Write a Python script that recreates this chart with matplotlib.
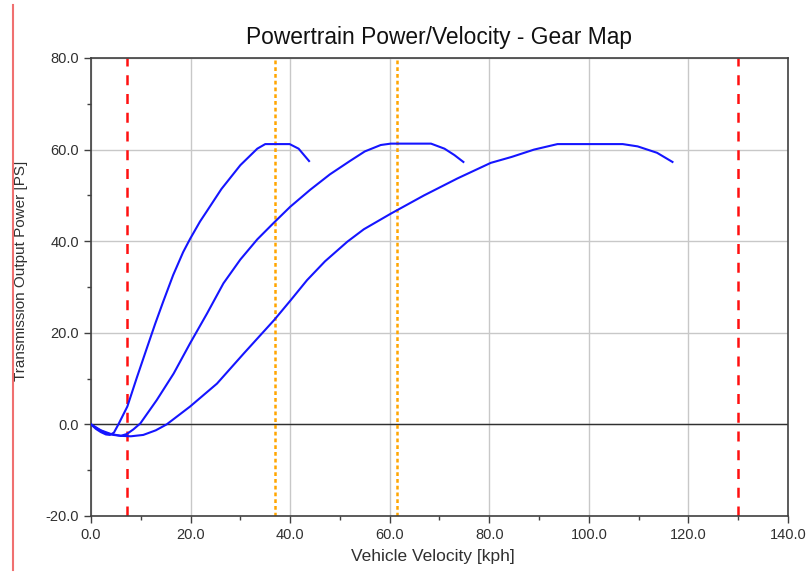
import matplotlib.pyplot as plt
from matplotlib.lines import Line2D
from matplotlib.ticker import MultipleLocator, FormatStrFormatter

plt.rcParams['font.family'] = ['Liberation Sans', 'DejaVu Sans']

# Curvas potencia / velocidad por marcha
v_gear1 = [0, 1.0, 2.0, 3.0, 3.8, 4.6, 5.5, 7.3, 9.2, 11.2, 12.9, 14.5, 16.5, 18.5,
           19.9, 21.9, 23.3, 26.2, 30.0, 33.4, 35.0, 39.9, 41.7, 43.8]
p_gear1 = [0, -1.0, -1.7, -2.2, -2.3, -1.8, 0.0, 3.9, 10.2, 16.6, 22.0, 26.8, 32.6, 37.6,
           40.5, 44.3, 46.6, 51.4, 56.6, 60.2, 61.2, 61.2, 60.2, 57.5]

v_gear2 = [0, 1.5, 3.0, 4.5, 6.0, 7.2, 8.5, 9.9, 13.2, 16.6, 19.9, 23.3, 26.6, 30.0,
           33.4, 36.7, 40.0, 44.0, 48.0, 52.0, 55.0, 58.2, 60.2, 68.3, 71.0, 73.0, 74.8]
p_gear2 = [0, -1.1, -1.9, -2.3, -2.5, -2.1, -1.1, 0.2, 5.3, 11.1, 17.7, 24.2, 30.8, 36.0,
           40.4, 44.0, 47.5, 51.2, 54.6, 57.5, 59.6, 61.0, 61.3, 61.3, 60.2, 58.8, 57.3]

v_gear3 = [0, 2.0, 4.0, 6.0, 8.0, 10.5, 13.0, 15.2, 19.9, 25.3, 30.7, 36.8, 40.1, 43.4,
           47.0, 51.5, 54.8, 60.2, 66.9, 73.6, 80.3, 84.5, 89.0, 93.7, 106.8, 109.8,
           113.7, 116.8]
p_gear3 = [0, -1.3, -2.1, -2.5, -2.6, -2.3, -1.3, 0.0, 3.9, 8.9, 15.5, 22.8, 27.1, 31.5,
           35.6, 39.9, 42.6, 46.0, 50.0, 53.7, 57.1, 58.4, 60.0, 61.2, 61.2, 60.7,
           59.3, 57.3]

v_limites = [7.3, 130.0]      # lineas rojas discontinuas
v_cambios = [36.9, 61.4]      # puntos de cambio (naranja)

fig = plt.figure(figsize=(8.09, 5.73), dpi=100)
ax = fig.add_axes([0.1125, 0.0995, 0.8615, 0.7993])

ax.set_xlim(0, 140)
ax.set_ylim(-20, 80)
ax.xaxis.set_major_locator(MultipleLocator(20))
ax.xaxis.set_minor_locator(MultipleLocator(10))
ax.yaxis.set_major_locator(MultipleLocator(20))
ax.yaxis.set_minor_locator(MultipleLocator(10))
ax.xaxis.set_major_formatter(FormatStrFormatter('%.1f'))
ax.yaxis.set_major_formatter(FormatStrFormatter('%.1f'))

ax.grid(True, which='major', color='#c8c8c8', linewidth=1.0)
ax.set_axisbelow(True)
ax.axhline(0, color='#303030', linewidth=1.0, zorder=1.5)

for v in v_limites:
  ax.axvline(v, color='#ff1010', linewidth=1.8, linestyle=(0, (4, 3.5)), zorder=2)
for v in v_cambios:
  ax.axvline(v, color='orange', linewidth=1.8, linestyle=(0, (1.5, 1.2)), zorder=2)

for vv, pp in [(v_gear1, p_gear1), (v_gear2, p_gear2), (v_gear3, p_gear3)]:
  ax.plot(vv, pp, color='#1515ff', linewidth=1.5, zorder=3, solid_joinstyle='round')

for s in ax.spines.values():
  s.set_color('#404040')
  s.set_linewidth(1.2)
ax.tick_params(which='major', direction='out', length=5, width=1, color='#404040',
               labelsize=10.5, labelcolor='#303030')
ax.tick_params(which='minor', direction='out', length=3, width=1, color='#404040')

ax.set_title('Powertrain Power/Velocity - Gear Map', fontsize=16.4, color='#111111', pad=10)
ax.set_xlabel('Vehicle Velocity [kph]', fontsize=12.5, color='#303030', labelpad=5)
ax.set_ylabel('Transmission Output Power [PS]', fontsize=11, color='#303030', labelpad=13)
ax.xaxis.label.set_x(0.49)
ax.yaxis.label.set_y(0.535)

# linea roja del borde izquierdo
fig.add_artist(Line2D([13 / 809, 13 / 809], [1 - 570 / 573, 1 - 5 / 573],
                      transform=fig.transFigure, color='#f07070', linewidth=1.5))

fig.savefig('out.png', dpi=100)
